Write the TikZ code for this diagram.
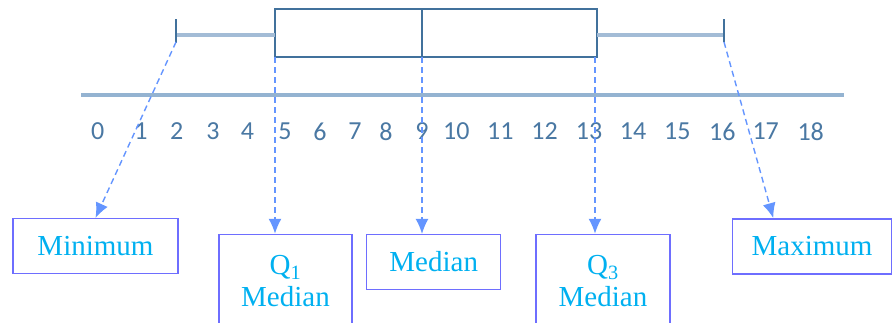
\documentclass[tikz,border=0pt]{standalone}
\usepackage{fontspec}
\setmainfont{Liberation Serif}
\newfontfamily\numfont{Carlito}
\usepackage{tikz}
\usetikzlibrary{arrows.meta}
\definecolor{boxblue}{HTML}{41719C}
\definecolor{numblue}{HTML}{4A78A3}
\definecolor{axisblue}{HTML}{94B3D1}
\definecolor{whiskblue}{HTML}{A3BCD6}
\definecolor{framepurple}{HTML}{6E6EFF}
\definecolor{labelcyan}{HTML}{00B0F0}
\definecolor{arrowblue}{HTML}{6495FF}
\begin{document}
\begin{tikzpicture}[x=1pt,y=-1pt,
    labelbox/.style={draw=framepurple,line width=1.5pt,text=labelcyan,
      font=\fontsize{29}{32}\selectfont,align=center,inner sep=0pt},
    pointer/.style={draw=arrowblue,line width=1.4pt,dash pattern=on 6pt off 4pt,
      -{Latex[length=15pt,width=13pt]}},
    whisker/.style={whiskblue,line width=3.5pt},
    numlabel/.style={text=numblue,font=\numfont\fontsize{26}{30}\selectfont,inner sep=0pt}]
      \useasboundingbox (0,0) rectangle (893,322);

      %% box and whiskers
      \draw[boxblue,line width=1.3pt] (275,9) rectangle (597,57);
      \draw[boxblue,line width=1.3pt] (422,9) -- (422,57);
      \draw[whisker] (176,35) -- (275,35);
      \draw[whisker] (597,35) -- (724,35);
      \draw[boxblue,line width=1.5pt] (176,19) -- (176,43);
      \draw[boxblue,line width=1.5pt] (724,19) -- (724,42);
      \coordinate (lo) at (176,42);
      \coordinate (qa) at (275,57);
      \coordinate (md) at (422,57);
      \coordinate (qc) at (595,57);
      \coordinate (hi) at (724,42);

      %% number line
      \draw[axisblue,line width=3.5pt] (81,95) -- (844,95);
      \foreach \n/\x in {0/97.7,1/141,2/176.7,3/213,4/247.5,5/285,6/320,7/355,8/386,9/422,
        10/456.3,11/500.3,12/544.5,13/589,14/633,15/677.3,16/722.3,17/765.7,18/810.7}
        \node[numlabel] (n\n) at (\x,131.5) {\n};

      %% labels
      \node[labelbox,minimum width=165pt,minimum height=54.6pt] (min) at (95.5,246) {Minimum};
      \node[labelbox,minimum width=133pt,minimum height=93pt] (qone) at (285.5,281) {Q\textsubscript{1}\\Median};
      \node[labelbox,minimum width=134pt,minimum height=54.8pt] (med) at (433.7,262) {Median};
      \node[labelbox,minimum width=134pt,minimum height=93pt] (qthree) at (603,281) {Q\textsubscript{3}\\Median};
      \node[labelbox,minimum width=159pt,minimum height=55pt] (max) at (812,246.3) {Maximum};

      \draw[pointer] (lo) -- (min.north);
      \draw[pointer] (qa) -- (qa |- qone.north);
      \draw[pointer] (md) -- (md |- med.north);
      \draw[pointer] (qc) -- (qc |- qthree.north);
      \draw[pointer] (hi) -- ([xshift=41.5pt]max.north west);
    \end{tikzpicture}
\end{document}
